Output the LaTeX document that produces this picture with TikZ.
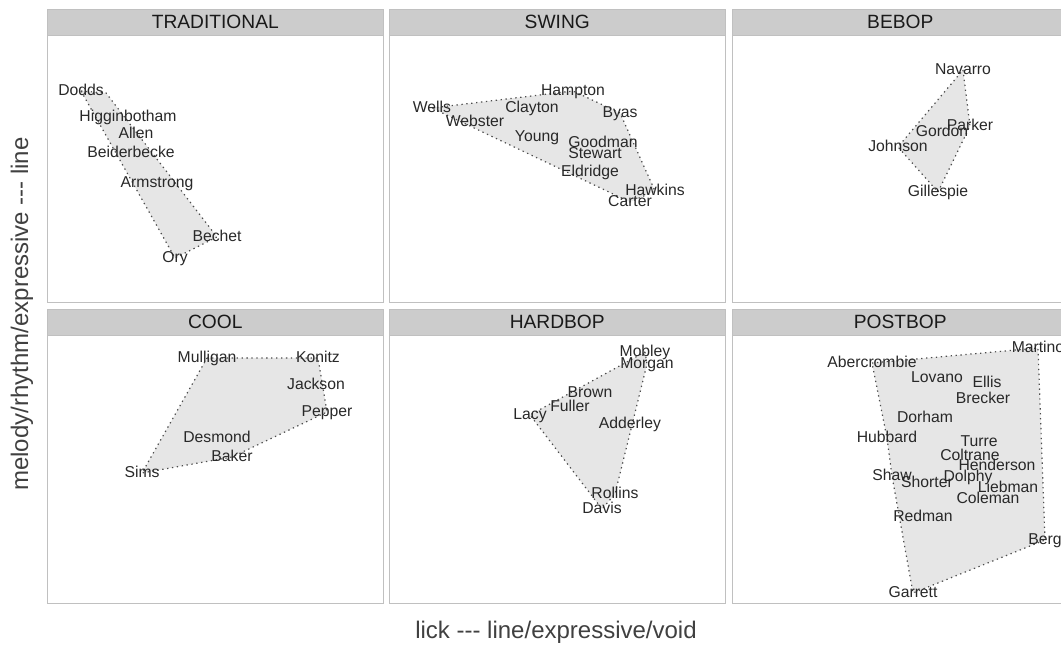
\documentclass[tikz,border=0pt]{standalone}
\usepackage{fontspec}
\setmainfont{Liberation Sans}
\usetikzlibrary{backgrounds}

\definecolor{stripfill}{RGB}{204,204,204}
\definecolor{panelline}{RGB}{192,192,192}
\definecolor{hullfill}{RGB}{230,230,230}
\definecolor{labeltext}{RGB}{40,40,40}

\tikzset{
	panel/.style={draw=panelline, line width=0.75pt},
	strip/.style={draw=panelline, fill=stripfill, anchor=north west,
		minimum width=252pt, minimum height=19.5pt, inner sep=0pt,
		text=black!90, font=\fontsize{14.4}{16}\selectfont},
	player/.style={inner sep=0pt, text height=0.716em, text depth=0pt,
		text=labeltext, font=\fontsize{11.8}{13}\selectfont},
	hull/.style={draw=black!70, fill=hullfill, line width=0.9pt,
		dash pattern=on 1pt off 2.7pt},
	axistitle/.style={text=black!75, font=\fontsize{18}{20}\selectfont}
}

\begin{document}
\begin{tikzpicture}[x=0.75pt, y=-0.75pt]
		\clip (0,0) rectangle (1061,648);
		
		%Panels and strips
		\foreach \col/\row/\name/\title in {47/9/trad/TRADITIONAL, 389/9/swing/SWING, 732/9/bebop/BEBOP,
			47/309/cool/COOL, 389/309/hard/HARDBOP, 732/309/post/POSTBOP}{
			\draw[panel] (\col,\row+26) rectangle ++(336,268);
			\node[strip] (\name) at (\col,\row) {\title};
		}
		
		%Traditional
		\node[player] (dodds) at (81,91) {Dodds};
		\coordinate (tradtop) at (106,93);
		\node[player] (higginbotham) at (128,117) {Higginbotham};
		\node[player] (allen) at (136,134) {Allen};
		\node[player] (beiderbecke) at (131,153) {Beiderbecke};
		\node[player] (armstrong) at (157,183) {Armstrong};
		\node[player] (bechet) at (217,237) {Bechet};
		\node[player] (ory) at (175,258) {Ory};
		
		%Swing
		\node[player] (hampton) at (573,91) {Hampton};
		\node[player] (wells) at (432,108) {Wells};
		\node[player] (clayton) at (532,108) {Clayton};
		\node[player] (byas) at (620,113) {Byas};
		\node[player] (webster) at (475,122) {Webster};
		\node[player] (young) at (537,137) {Young};
		\node[player] (goodman) at (603,143) {Goodman};
		\node[player] (stewart) at (595,154) {Stewart};
		\node[player] (eldridge) at (590,172) {Eldridge};
		\node[player] (hawkins) at (655,191) {Hawkins};
		\node[player] (carter) at (630,202) {Carter};
		
		%Bebop
		\node[player] (navarro) at (963,70) {Navarro};
		\node[player] (parker) at (970,126) {Parker};
		\node[player] (gordon) at (942,132) {Gordon};
		\node[player] (johnson) at (898,147) {Johnson};
		\node[player] (gillespie) at (938,192) {Gillespie};
		
		%Cool
		\node[player] (mulligan) at (207,358) {Mulligan};
		\node[player] (konitz) at (318,358) {Konitz};
		\node[player] (jackson) at (316,385) {Jackson};
		\node[player] (pepper) at (327,412) {Pepper};
		\node[player] (desmond) at (217,438) {Desmond};
		\node[player] (baker) at (232,457) {Baker};
		\node[player] (sims) at (142,473) {Sims};
		
		%Hardbop
		\node[player] (mobley) at (645,352) {Mobley};
		\node[player] (morgan) at (647,364) {Morgan};
		\node[player] (brown) at (590,393) {Brown};
		\node[player] (fuller) at (570,407) {Fuller};
		\node[player] (lacy) at (530,415) {Lacy};
		\node[player] (adderley) at (630,424) {Adderley};
		\node[player] (rollins) at (615,494) {Rollins};
		\node[player] (davis) at (602,509) {Davis};
		
		%Postbop
		\node[player] (martino) at (1038,348) {Martino};
		\node[player] (abercrombie) at (872,363) {Abercrombie};
		\node[player] (lovano) at (937,378) {Lovano};
		\node[player] (ellis) at (987,383) {Ellis};
		\node[player] (brecker) at (983,399) {Brecker};
		\node[player] (dorham) at (925,418) {Dorham};
		\node[player] (hubbard) at (887,438) {Hubbard};
		\node[player] (turre) at (979,442) {Turre};
		\node[player] (coltrane) at (970,456) {Coltrane};
		\node[player] (henderson) at (997,466) {Henderson};
		\node[player] (dolphy) at (968,477) {Dolphy};
		\node[player] (shaw) at (892,476) {Shaw};
		\node[player] (shorter) at (927,483) {Shorter};
		\node[player] (liebman) at (1008,488) {Liebman};
		\node[player] (coleman) at (988,499) {Coleman};
		\node[player] (redman) at (923,517) {Redman};
		\node[player] (berg) at (1045,540) {Berg};
		\node[player] (garrett) at (913,593) {Garrett};
		
		%Hulls behind the names
		\begin{scope}[on background layer]
			\draw[hull] (dodds.center) -- (tradtop) -- (bechet.center) -- (ory.center) -- cycle;
			\draw[hull] (wells.center) -- (hampton.center) -- (byas.center) -- (hawkins.center) -- (carter.center) -- cycle;
			\draw[hull] (navarro.center) -- (parker.center) -- (gillespie.center) -- (johnson.center) -- cycle;
			\draw[hull] (mulligan.center) -- (konitz.center) -- (pepper.center) -- (baker.center) -- (sims.center) -- cycle;
			\draw[hull] (mobley.center) -- (morgan.center) -- (rollins.center) -- (davis.center) -- (lacy.center) -- cycle;
			\draw[hull] (abercrombie.center) -- (martino.center) -- (berg.center) -- (garrett.center) -- (shaw.center) -- (hubbard.center) -- cycle;
		\end{scope}
		
		%Axis titles
		\node[axistitle] (xtitle) at (556,632) {lick -{}-{}- line/expressive/void};
		\node[axistitle, rotate=90] (ytitle) at (22,314) {melody/rhythm/expressive -{}-{}- line};
	\end{tikzpicture}
\end{document}
